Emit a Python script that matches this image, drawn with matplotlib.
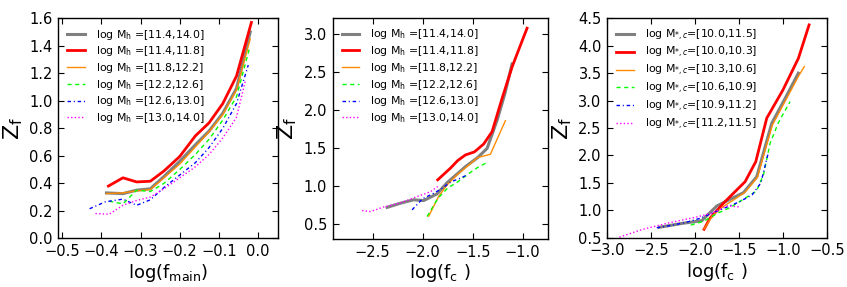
import matplotlib
matplotlib.use("Agg")
import matplotlib.pyplot as plt

# ---------------- data ----------------
# Panel 1: z_f vs log(f_main), bins in halo mass
p1_labels = [r'log M$_{\rm h}$ =[11.4,14.0]', r'log M$_{\rm h}$ =[11.4,11.8]',
             r'log M$_{\rm h}$ =[11.8,12.2]', r'log M$_{\rm h}$ =[12.2,12.6]',
             r'log M$_{\rm h}$ =[12.6,13.0]', r'log M$_{\rm h}$ =[13.0,14.0]']
p1_x_gray = [-0.387, -0.345, -0.31, -0.275, -0.24, -0.20, -0.16, -0.125, -0.09, -0.055, -0.02]
p1_y_gray = [0.33, 0.325, 0.35, 0.36, 0.45, 0.56, 0.68, 0.78, 0.91, 1.09, 1.50]
p1_x_red = [-0.382, -0.345, -0.31, -0.275, -0.24, -0.20, -0.16, -0.125, -0.09, -0.055, -0.017]
p1_y_red = [0.38, 0.44, 0.41, 0.415, 0.49, 0.595, 0.745, 0.84, 0.98, 1.18, 1.57]
p1_x_orange = [-0.387, -0.345, -0.31, -0.275, -0.24, -0.20, -0.16, -0.125, -0.09, -0.055, -0.02]
p1_y_orange = [0.325, 0.33, 0.345, 0.355, 0.44, 0.54, 0.665, 0.775, 0.90, 1.08, 1.45]
p1_x_green = [-0.38, -0.345, -0.31, -0.275, -0.24, -0.20, -0.16, -0.125, -0.09, -0.055, -0.022]
p1_y_green = [0.27, 0.25, 0.35, 0.34, 0.40, 0.50, 0.61, 0.72, 0.86, 1.03, 1.38]
p1_x_blue = [-0.43, -0.39, -0.345, -0.31, -0.275, -0.24, -0.20, -0.16, -0.125, -0.09, -0.055, -0.025]
p1_y_blue = [0.215, 0.265, 0.285, 0.24, 0.28, 0.37, 0.46, 0.55, 0.66, 0.80, 0.98, 1.26]
p1_x_mag = [-0.415, -0.38, -0.345, -0.31, -0.275, -0.24, -0.20, -0.16, -0.125, -0.09, -0.055, -0.032]
p1_y_mag = [0.18, 0.175, 0.24, 0.275, 0.30, 0.36, 0.44, 0.52, 0.61, 0.73, 0.88, 1.15]

# Panel 2: z_f vs log(f_c), bins in halo mass
p2_labels = p1_labels
p2_x_gray = [-2.356, -2.223, -2.09, -1.99, -1.856, -1.756, -1.65, -1.573, -1.45, -1.356, -1.256, -1.18, -1.106]
p2_y_gray = [0.715, 0.77, 0.815, 0.805, 0.893, 1.04, 1.16, 1.25, 1.37, 1.49, 1.86, 2.20, 2.60]
p2_x_red = [-1.85, -1.723, -1.65, -1.573, -1.483, -1.39, -1.306, -1.206, -1.106, -1.03, -0.956]
p2_y_red = [1.077, 1.23, 1.33, 1.404, 1.444, 1.548, 1.71, 2.147, 2.56, 2.82, 3.07]
p2_x_orange = [-1.94, -1.84, -1.75, -1.65, -1.55, -1.45, -1.323, -1.173]
p2_y_orange = [0.60, 0.86, 1.02, 1.15, 1.26, 1.37, 1.413, 1.854]
p2_x_green = [-1.956, -1.85, -1.75, -1.65, -1.55, -1.45, -1.363]
p2_y_green = [0.596, 0.83, 0.97, 1.05, 1.15, 1.24, 1.30]
p2_x_blue = [-2.106, -2.0, -1.89, -1.80, -1.72, -1.64, -1.556]
p2_y_blue = [0.683, 0.83, 0.90, 0.97, 1.05, 1.09, 1.14]
p2_x_mag = [-2.606, -2.523, -2.39, -2.22, -2.056, -1.923, -1.85]
p2_y_mag = [0.675, 0.66, 0.72, 0.775, 0.857, 0.92, 0.99]

# Panel 3: z_f vs log(f_c), bins in central stellar mass
p3_labels = [r'log M$_{*,c}$=[10.0,11.5]', r'log M$_{*,c}$=[10.0,10.3]',
             r'log M$_{*,c}$=[10.3,10.6]', r'log M$_{*,c}$=[10.6,10.9]',
             r'log M$_{*,c}$=[10.9,11.2]', r'log M$_{*,c}$=[11.2,11.5]']
p3_x_gray = [-2.405, -2.15, -1.923, -1.752, -1.6, -1.449, -1.297, -1.126, -0.97, -0.823]
p3_y_gray = [0.69, 0.76, 0.81, 1.078, 1.20, 1.32, 1.61, 2.586, 3.05, 3.50]
p3_x_red = [-1.897, -1.83, -1.677, -1.55, -1.43, -1.308, -1.183, -1.0, -0.823, -0.701]
p3_y_red = [0.653, 0.853, 1.127, 1.33, 1.52, 1.886, 2.68, 3.19, 3.77, 4.38]
p3_x_orange = [-1.897, -1.80, -1.677, -1.55, -1.43, -1.29, -1.12, -0.97, -0.82, -0.755]
p3_y_orange = [0.66, 0.90, 1.07, 1.20, 1.33, 1.60, 2.55, 3.00, 3.45, 3.62]
p3_x_green = [-2.048, -1.9, -1.75, -1.6, -1.45, -1.30, -1.22, -1.145, -1.05, -0.918]
p3_y_green = [0.73, 0.80, 0.94, 1.05, 1.20, 1.35, 1.65, 2.22, 2.60, 2.98]
p3_x_blue = [-2.435, -2.25, -2.1, -1.95, -1.8, -1.65, -1.5, -1.35, -1.25, -1.165]
p3_y_blue = [0.68, 0.73, 0.78, 0.85, 0.95, 1.05, 1.15, 1.28, 1.50, 2.05]
p3_x_mag = [-2.86, -2.6, -2.3, -2.0, -1.8, -1.64, -1.49]
p3_y_mag = [0.51, 0.65, 0.77, 0.87, 0.95, 1.08, 1.06]

styles = [
    dict(color='gray', lw=2.2, ls='-'),
    dict(color='red', lw=2.0, ls='-'),
    dict(color='darkorange', lw=1.0, ls='-'),
    dict(color='lime', lw=1.0, ls=(0, (3, 2.5))),
    dict(color='blue', lw=1.0, ls=(0, (2.5, 2, 0.8, 2))),
    dict(color='magenta', lw=1.0, ls=(0, (1, 1.6))),
]

panels = [
    dict(rect=[0.0688, 0.1697, 0.2590, 0.7665], labels=p1_labels,
         series=[(p1_x_gray, p1_y_gray), (p1_x_red, p1_y_red), (p1_x_orange, p1_y_orange),
                 (p1_x_green, p1_y_green), (p1_x_blue, p1_y_blue), (p1_x_mag, p1_y_mag)],
         xlim=(-0.51, 0.05), ylim=(0.0, 1.6),
         xticks=[-0.5, -0.4, -0.3, -0.2, -0.1, 0.0], yticks=[0.0, 0.2, 0.4, 0.6, 0.8, 1.0, 1.2, 1.4, 1.6],
         xlabel=r'log(f$_{\rm main}$)'),
    dict(rect=[0.3928, 0.1673, 0.2538, 0.7690], labels=p2_labels,
         series=[(p2_x_gray, p2_y_gray), (p2_x_red, p2_y_red), (p2_x_orange, p2_y_orange),
                 (p2_x_green, p2_y_green), (p2_x_blue, p2_y_blue), (p2_x_mag, p2_y_mag)],
         xlim=(-2.9, -0.75), ylim=(0.3, 3.2),
         xticks=[-2.5, -2.0, -1.5, -1.0], yticks=[0.5, 1.0, 1.5, 2.0, 2.5, 3.0],
         xlabel=r'log(f$_{\rm c}$ )'),
    dict(rect=[0.7168, 0.1718, 0.2593, 0.7644], labels=p3_labels,
         series=[(p3_x_gray, p3_y_gray), (p3_x_red, p3_y_red), (p3_x_orange, p3_y_orange),
                 (p3_x_green, p3_y_green), (p3_x_blue, p3_y_blue), (p3_x_mag, p3_y_mag)],
         xlim=(-3.0, -0.5), ylim=(0.5, 4.5),
         xticks=[-3.0, -2.5, -2.0, -1.5, -1.0, -0.5], yticks=[0.5, 1.0, 1.5, 2.0, 2.5, 3.0, 3.5, 4.0, 4.5],
         xlabel=r'log(f$_{\rm c}$ )'),
]

fig = plt.figure(figsize=(8.47, 2.87), dpi=100)
for p in panels:
    ax = fig.add_axes(p['rect'])
    for (xs, ys), lab, st in zip(p['series'], p['labels'], styles):
        ax.plot(xs, ys, label=lab, **st)
    ax.set_xlim(*p['xlim'])
    ax.set_ylim(*p['ylim'])
    ax.set_xticks(p['xticks'])
    ax.set_yticks(p['yticks'])
    ax.set_xticklabels([('%.1f' % v).replace('-', '\u2212') for v in p['xticks']])
    ax.set_yticklabels([('%.1f' % v).replace('-', '\u2212') for v in p['yticks']])
    ax.tick_params(direction='in', top=True, right=True, length=4, width=0.8, labelsize=10.5, pad=4)
    for s in ax.spines.values():
        s.set_linewidth(1.0)
    ax.set_xlabel(p['xlabel'], fontsize=13, labelpad=2)
    ax.set_ylabel(r'Z$_{\rm f}$', fontsize=16, labelpad=3)
    ax.legend(loc='upper left', frameon=False, fontsize=7.8, handlelength=1.6,
              labelspacing=0.25, borderaxespad=0.45, handletextpad=1.0)

fig.savefig('out.png', dpi=100)
